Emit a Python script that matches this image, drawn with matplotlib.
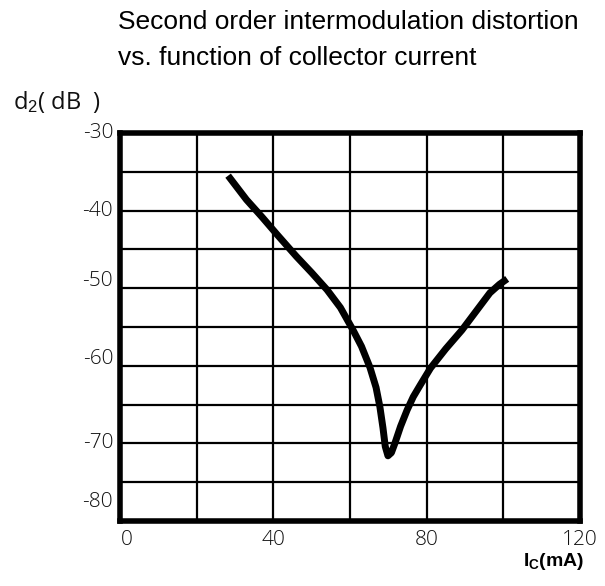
import numpy as np
import matplotlib
matplotlib.use("Agg")
import matplotlib.pyplot as plt
from matplotlib.transforms import ScaledTranslation

plt.rcParams["mathtext.fontset"] = "custom"
plt.rcParams["mathtext.rm"] = "Liberation Sans"
plt.rcParams["mathtext.bf"] = "Liberation Sans:bold"
plt.rcParams["mathtext.it"] = "Liberation Sans:italic"

# Данные кривой d2 от тока коллектора
ic_ma = [28.2, 33, 37, 41, 46, 50, 54, 57.5, 60.8, 63, 65.2, 66.8, 67.8, 68.6, 69.2, 69.9,
         70.8, 71.7, 73.2, 74.9, 76.5, 78.3, 81.0, 85.0, 89.2, 93.0, 96.5, 99.0, 101.0]
d2_db = [-35.5, -38.6, -40.8, -43.1, -45.9, -48.0, -50.2, -52.5, -55.4, -57.5, -60.2, -62.8,
         -65.3, -68.0, -70.4, -71.6, -71.2, -70.0, -67.8, -65.7, -64.0, -62.5, -60.3, -57.8,
         -55.4, -52.9, -50.6, -49.5, -48.8]

x_ticks = [0, 40, 80, 120]
y_ticks = [-30, -40, -50, -60, -70, -80]

fig = plt.figure(figsize=(6.05, 5.86), dpi=100)
ax = fig.add_axes([120 / 605, 65 / 586, 460 / 605, 388 / 586])

ax.set_xlim(0, 120)
ax.set_ylim(-80, -30)
ax.set_xticks(np.arange(0, 121, 20))
ax.set_yticks(np.arange(-80, -29, 5))
ax.grid(True, color="black", linewidth=1.6)
ax.tick_params(length=0, labelbottom=False, labelleft=False)
for sp in ax.spines.values():
    sp.set_linewidth(4)

ax.plot(ic_ma, d2_db, color="black", linewidth=5, solid_capstyle="butt")

# подписи осей
lab_font = dict(family=["Open Sans", "DejaVu Sans"], fontweight="light",
                fontsize=15, color="#111111")
for v in y_ticks:
    t = ax.text(-1.8, v, str(v), ha="right", va="center", **lab_font)
    if v == -80:
        t.set_transform(ax.transData + ScaledTranslation(0, 0.19, fig.dpi_scale_trans))
    elif v in (-50, -60):
        t.set_transform(ax.transData + ScaledTranslation(0, 0.07, fig.dpi_scale_trans))
for v in x_ticks:
    ha = "left" if v == 0 else "center"
    ax.text(v + (0.3 if v == 0 else 0), -82.4, str(v), ha=ha, va="center", **lab_font)

fig.text(13 / 605, 1 - 102 / 586, "d$_2$( dB  )", family=["Open Sans", "DejaVu Sans"],
         fontsize=17, color="#111111", va="center", ha="left")
fig.text(554 / 605, 1 - 561 / 586, r"$\mathbf{I_C}$(mA)", family=["Liberation Sans"],
         fontsize=14, fontweight="bold", ha="center", va="center")

fig.text(118 / 605, 1 - 22 / 586, "Second order intermodulation distortion",
         family=["Liberation Sans"], fontsize=19, va="center", ha="left")
fig.text(118 / 605, 1 - 58 / 586, "vs. function of collector current",
         family=["Liberation Sans"], fontsize=19, va="center", ha="left")

fig.savefig("out.png", dpi=100)
